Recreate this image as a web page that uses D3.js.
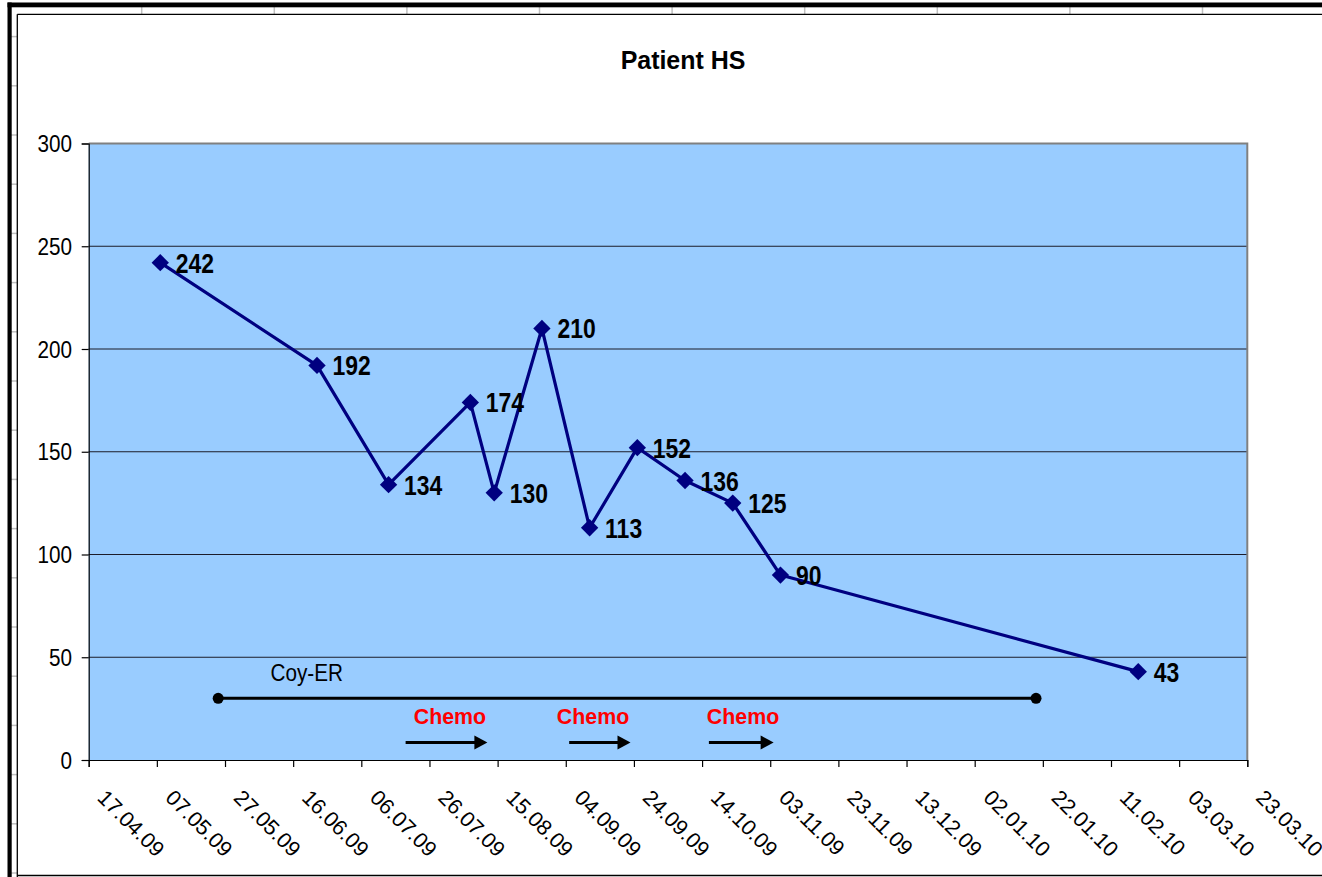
<!DOCTYPE html>
<html>
<head>
<meta charset="utf-8">
<script src="https://cdn.jsdelivr.net/npm/d3@7"></script>
<style>
  html, body { margin: 0; padding: 0; background: #fff; }
  svg { display: block; font-family: "Liberation Sans", Arial, sans-serif; }
</style>
</head>
<body>
<svg id="chart" width="1322" height="877"></svg>
<script>
// Measurement dates and values
const sampleDates = ["08.05.09", "23.06.09", "14.07.09", "07.08.09", "14.08.09", "28.08.09",
                     "11.09.09", "25.09.09", "09.10.09", "23.10.09", "06.11.09", "19.02.10"];
const sampleValues = [242, 192, 134, 174, 130, 210, 113, 152, 136, 125, 90, 43];

// Axis ticks
const xTickLabels = ["17.04.09", "07.05.09", "27.05.09", "16.06.09", "06.07.09", "26.07.09",
                     "15.08.09", "04.09.09", "24.09.09", "14.10.09", "03.11.09", "23.11.09",
                     "13.12.09", "02.01.10", "22.01.10", "11.02.10", "03.03.10", "23.03.10"];
const yTickValues = [0, 50, 100, 150, 200, 250, 300];

// Treatment periods
const coyDates = ["25.05.09", "20.01.10"];
const coyValue = 30;
const coyLabel = "Coy-ER";
const coyLabelDate = "20.06.09";
const chemoStarts = ["19.07.09", "05.09.09", "16.10.09"];
const chemoEnds = ["12.08.09", "23.09.09", "04.11.09"];
const chemoLabelDates = ["01.08.09", "12.09.09", "26.10.09"];
const chemoValue = 8.5;
const chemoLabel = "Chemo";

const title = "Patient HS";

const parse = d3.timeParse("%d.%m.%y");
const svg = d3.select("#chart");

// --- spreadsheet frame around the chart object ---
const frame = svg.append("g");
frame.append("rect").attr("x", 0).attr("y", 0).attr("width", 1322).attr("height", 877).attr("fill", "#fff");
// column separators along the top strip
d3.range(141.7, 1322, 132.6).forEach(cx => {
  frame.append("line").attr("x1", cx).attr("x2", cx).attr("y1", 7).attr("y2", 14)
    .attr("stroke", "#c0c0c0").attr("stroke-width", 1.5);
});
// row separators along the left strip
d3.range(36.6, 877, 49.2).forEach(ry => {
  frame.append("line").attr("x1", 11).attr("x2", 17).attr("y1", ry).attr("y2", ry)
    .attr("stroke", "#c0c0c0").attr("stroke-width", 1.5);
});
frame.append("rect").attr("x", 7.5).attr("y", 2.5).attr("width", 1320).attr("height", 4.8).attr("fill", "#000");
frame.append("rect").attr("x", 7.5).attr("y", 2.5).attr("width", 4.2).attr("height", 877).attr("fill", "#000");
frame.append("line").attr("x1", 17.3).attr("x2", 1322).attr("y1", 14.3).attr("y2", 14.3).attr("stroke", "#000").attr("stroke-width", 1.3);
frame.append("line").attr("x1", 17.3).attr("x2", 17.3).attr("y1", 14.3).attr("y2", 877).attr("stroke", "#000").attr("stroke-width", 1.3);
frame.append("line").attr("x1", 17.3).attr("x2", 1322).attr("y1", 875.5).attr("y2", 875.5).attr("stroke", "#000").attr("stroke-width", 1.3);

// --- scales ---
const plot = { left: 88.7, right: 1247.3, top: 143.5, bottom: 760 };
const x = d3.scaleTime()
  .domain([parse(xTickLabels[0]), parse(xTickLabels[xTickLabels.length - 1])])
  .range([plot.left, plot.right]);
const y = d3.scaleLinear().domain([0, 300]).range([plot.bottom, plot.top]);

// text helper: horizontally condensed glyphs like the original rendering
function txt(g, px, py, s, opts) {
  const o = Object.assign({ size: 22, weight: "normal", fill: "#000", sx: 0.88, rot: 0, anchor: "start" }, opts || {});
  return g.append("text")
    .attr("transform", `translate(${px},${py}) scale(${o.sx},1) rotate(${o.rot})`)
    .attr("font-size", o.size).attr("font-weight", o.weight)
    .attr("fill", o.fill).attr("text-anchor", o.anchor).text(s);
}

// --- plot area ---
svg.append("rect")
  .attr("x", plot.left).attr("y", plot.top)
  .attr("width", plot.right - plot.left).attr("height", plot.bottom - plot.top)
  .attr("fill", "#99ccff");

// gridlines
svg.append("g").selectAll("line")
  .data(yTickValues.filter(v => v > 0 && v < 300))
  .join("line")
  .attr("x1", plot.left).attr("x2", plot.right)
  .attr("y1", d => y(d)).attr("y2", d => y(d))
  .attr("stroke", "#1c1c2a").attr("stroke-width", 1.1);

// plot area border (top/right)
svg.append("path")
  .attr("d", `M${plot.left},${plot.top}H${plot.right}V${plot.bottom}`)
  .attr("fill", "none").attr("stroke", "#808080").attr("stroke-width", 2);

// y axis
const yAxis = d3.axisLeft(y).tickValues(yTickValues).tickSize(7).tickFormat("");
const gy = svg.append("g").attr("transform", `translate(${plot.left},0)`).call(yAxis);
gy.select(".domain").attr("stroke", "#000").attr("stroke-width", 1.2);
gy.selectAll(".tick line").attr("stroke", "#000").attr("stroke-width", 1.2);
yTickValues.forEach(v => {
  txt(svg, 72, y(v) + 8.5, String(v), { size: 23, anchor: "end", sx: 0.9 });
});

// x axis
const xTicks = xTickLabels.map(parse);
const xAxis = d3.axisBottom(x).tickValues(xTicks).tickSize(7).tickFormat("");
const gx = svg.append("g").attr("transform", `translate(0,${plot.bottom})`).call(xAxis);
gx.select(".domain").attr("stroke", "#000").attr("stroke-width", 1.2);
gx.selectAll(".tick line").attr("stroke", "#000").attr("stroke-width", 1.2);
xTickLabels.forEach((lab, i) => {
  txt(svg, x(xTicks[i]) + 7.5, 799, lab, { size: 21.5, rot: 45, sx: 1 });
});

// --- Coy-ER period ---
const coy = svg.append("g");
coy.append("line")
  .attr("x1", x(parse(coyDates[0]))).attr("x2", x(parse(coyDates[1])))
  .attr("y1", y(coyValue)).attr("y2", y(coyValue))
  .attr("stroke", "#000").attr("stroke-width", 3);
coy.selectAll("circle").data(coyDates).join("circle")
  .attr("cx", d => x(parse(d))).attr("cy", y(coyValue)).attr("r", 5.5).attr("fill", "#000");
txt(coy, x(parse(coyLabelDate)), y(coyValue) - 17.5, coyLabel, { size: 23.5, anchor: "middle", sx: 0.88 });

// --- chemotherapy cycles ---
const chemo = svg.append("g");
chemoStarts.forEach((s, i) => {
  const x1 = x(parse(s)), x2 = x(parse(chemoEnds[i]));
  const cy = y(chemoValue);
  chemo.append("line")
    .attr("x1", x1).attr("x2", x2 - 10).attr("y1", cy).attr("y2", cy)
    .attr("stroke", "#000").attr("stroke-width", 3);
  chemo.append("path")
    .attr("d", `M${x2 - 13},${cy - 7}L${x2},${cy}L${x2 - 13},${cy + 7}Z`)
    .attr("fill", "#000");
  txt(chemo, x(parse(chemoLabelDates[i])), cy - 19, chemoLabel,
      { size: 23, weight: "bold", fill: "#ff0000", anchor: "middle", sx: 0.93 });
});

// --- measurement series ---
const pts = sampleDates.map((d, i) => ({ date: parse(d), value: sampleValues[i] }));
svg.append("path").datum(pts)
  .attr("d", d3.line().x(d => x(d.date)).y(d => y(d.value)))
  .attr("fill", "none").attr("stroke", "#000080").attr("stroke-width", 3.2)
  .attr("stroke-linejoin", "round");
svg.append("g").selectAll("path").data(pts).join("path")
  .attr("d", d3.symbol(d3.symbolSquare, 150))
  .attr("transform", d => `translate(${x(d.date)},${y(d.value)}) rotate(45)`)
  .attr("fill", "#000080");
const labels = svg.append("g");
pts.forEach(d => {
  txt(labels, x(d.date) + 15.5, y(d.value) + 10, String(d.value),
      { size: 27, weight: "bold", sx: 0.85 });
});

// --- title ---
txt(svg, 683, 69, title, { size: 26, weight: "bold", anchor: "middle", sx: 0.96 });
</script>
</body>
</html>
